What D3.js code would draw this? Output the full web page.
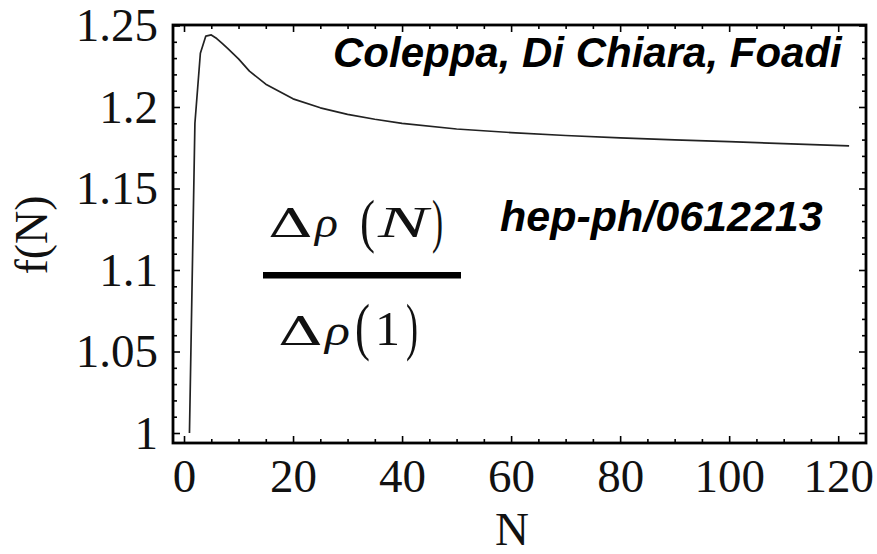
<!DOCTYPE html>
<html>
<head>
<meta charset="utf-8">
<script src="https://cdn.jsdelivr.net/npm/d3@7/dist/d3.min.js"></script>
<style>
  html, body { margin: 0; padding: 0; background: #fff; }
  svg { display: block; }
  .tick text { font-family: "Liberation Serif", "Times New Roman", serif; font-size: 47px; fill: #111; }
</style>
</head>
<body>
<svg id="chart" width="877" height="554"></svg>
<script>
// f(N) = Δρ(N)/Δρ(1) sampled at integer N
const nValues = [1, 2, 3, 4, 5, 6, 7, 8, 10, 12, 15, 20, 25, 30, 35, 40, 50, 60, 70, 80, 90, 100, 110, 122];
const fValues = [1.000, 1.190, 1.233, 1.2435, 1.2442, 1.242, 1.239, 1.236, 1.2295, 1.222, 1.214, 1.205,
                 1.1995, 1.1955, 1.1925, 1.190, 1.1865, 1.1843, 1.1825, 1.181, 1.1798, 1.1788, 1.1775, 1.1762];

const xMajorTicks = [0, 20, 40, 60, 80, 100, 120];
const yMajorTicks = [1, 1.05, 1.1, 1.15, 1.2, 1.25];
const yTickLabels = ["1", "1.05", "1.1", "1.15", "1.2", "1.25"];

const authorsLabel = "Coleppa, Di Chiara, Foadi";
const preprintLabel = "hep-ph/0612213";

const svg = d3.select("#chart");
const plotLeft = 173, plotRight = 866, plotTop = 25, plotBottom = 443;

const x = d3.scaleLinear().domain([-2.02, 125.1]).range([plotLeft, plotRight]);
const y = d3.scaleLinear().domain([0.99387, 1.2503]).range([plotBottom, plotTop]);

const xMinor = d3.range(0, 126, 5).filter(v => !xMajorTicks.includes(v));
const yMinor = d3.range(100, 126, 1).map(v => v / 100).filter(v => !yMajorTicks.some(m => Math.abs(m - v) < 1e-9));

const MAJ = 7, MIN = 4;

function styleAxis(g) {
  g.select(".domain").remove();
  g.selectAll(".tick line").attr("stroke", "#000").attr("stroke-width", 1.6);
}

// bottom axis with labels
svg.append("g").attr("transform", `translate(0,${plotBottom})`)
  .call(d3.axisBottom(x).tickValues(xMajorTicks).tickSize(-MAJ).tickPadding(16).tickFormat(d3.format("d")))
  .call(styleAxis);
svg.append("g").attr("transform", `translate(0,${plotBottom})`)
  .call(d3.axisBottom(x).tickValues(xMinor).tickSize(-MIN).tickFormat(""))
  .call(styleAxis);
// top axis
svg.append("g").attr("transform", `translate(0,${plotTop})`)
  .call(d3.axisTop(x).tickValues(xMajorTicks).tickSize(-MAJ).tickFormat(""))
  .call(styleAxis);
svg.append("g").attr("transform", `translate(0,${plotTop})`)
  .call(d3.axisTop(x).tickValues(xMinor).tickSize(-MIN).tickFormat(""))
  .call(styleAxis);
// left axis with labels
svg.append("g").attr("transform", `translate(${plotLeft},0)`)
  .call(d3.axisLeft(y).tickValues(yMajorTicks).tickSize(-MAJ).tickPadding(15)
        .tickFormat((d, i) => yTickLabels[i]))
  .call(styleAxis);
svg.append("g").attr("transform", `translate(${plotLeft},0)`)
  .call(d3.axisLeft(y).tickValues(yMinor).tickSize(-MIN).tickFormat(""))
  .call(styleAxis);
// right axis
svg.append("g").attr("transform", `translate(${plotRight},0)`)
  .call(d3.axisRight(y).tickValues(yMajorTicks).tickSize(-MAJ).tickFormat(""))
  .call(styleAxis);
svg.append("g").attr("transform", `translate(${plotRight},0)`)
  .call(d3.axisRight(y).tickValues(yMinor).tickSize(-MIN).tickFormat(""))
  .call(styleAxis);

// frame
svg.append("rect")
  .attr("x", plotLeft).attr("y", plotTop)
  .attr("width", plotRight - plotLeft).attr("height", plotBottom - plotTop)
  .attr("fill", "none").attr("stroke", "#000").attr("stroke-width", 2.8);

// curve
const pts = nValues.map((n, i) => [n, fValues[i]]);
svg.append("path")
  .datum(pts)
  .attr("fill", "none")
  .attr("stroke", "#222")
  .attr("stroke-width", 1.7)
  .attr("stroke-linejoin", "round")
  .attr("d", d3.line().x(d => x(d[0])).y(d => y(d[1])));

// axis titles
const serif = "'Liberation Serif', 'Times New Roman', serif";
svg.append("text")
  .attr("x", 512).attr("y", 545)
  .attr("text-anchor", "middle")
  .attr("font-family", serif).attr("font-size", 47).attr("fill", "#111")
  .text("N");
svg.append("text")
  .attr("transform", "translate(47,235) rotate(-90)")
  .attr("text-anchor", "middle")
  .attr("font-family", serif).attr("font-size", 46).attr("fill", "#111")
  .text("f(N)");

// annotations
const sans = "'Liberation Sans', Arial, sans-serif";
svg.append("text")
  .attr("x", 333).attr("y", 67)
  .attr("font-family", sans).attr("font-size", 42)
  .attr("font-weight", "bold").attr("font-style", "italic")
  .attr("fill", "#000")
  .text(authorsLabel);
svg.append("text")
  .attr("x", 500).attr("y", 231)
  .attr("font-family", sans).attr("font-size", 43)
  .attr("font-weight", "bold").attr("font-style", "italic")
  .attr("fill", "#000")
  .text(preprintLabel);

// fraction Δρ(N) / Δρ(1), glyph by glyph
const deltaFont = "'DejaVu Serif', serif";
const glyphs = [
  { t: "Δ", x0: 268, x1: 313, base: 237, size: 40, it: false, f: deltaFont },
  { t: "ρ", x0: 315, x1: 338, base: 237, size: 44, it: true,  f: serif },
  { t: "(", x0: 360, x1: 375, base: 241, size: 60, it: false, f: serif },
  { t: "N", x0: 378, x1: 428, base: 237, size: 44, it: true,  f: serif },
  { t: ")", x0: 432, x1: 443, base: 241, size: 60, it: false, f: serif },
  { t: "Δ", x0: 278, x1: 323, base: 345, size: 39, it: false, f: deltaFont },
  { t: "ρ", x0: 325, x1: 350, base: 345, size: 44, it: true,  f: serif },
  { t: "(", x0: 355, x1: 370, base: 348, size: 64, it: false, f: serif },
  { t: "1", x0: 375, x1: 400, base: 345, size: 48, it: false, f: serif },
  { t: ")", x0: 406, x1: 418, base: 348, size: 64, it: false, f: serif }
];
const frac = svg.append("g");
frac.selectAll("text").data(glyphs).join("text")
  .attr("x", d => d.x0).attr("y", d => d.base)
  .attr("textLength", d => d.x1 - d.x0)
  .attr("lengthAdjust", "spacingAndGlyphs")
  .attr("font-family", d => d.f)
  .attr("font-size", d => d.size)
  .attr("font-style", d => d.it ? "italic" : "normal")
  .attr("fill", "#111")
  .text(d => d.t);
frac.append("rect")
  .attr("x", 263).attr("y", 272)
  .attr("width", 198).attr("height", 6.5)
  .attr("fill", "#000");
</script>
</body>
</html>
